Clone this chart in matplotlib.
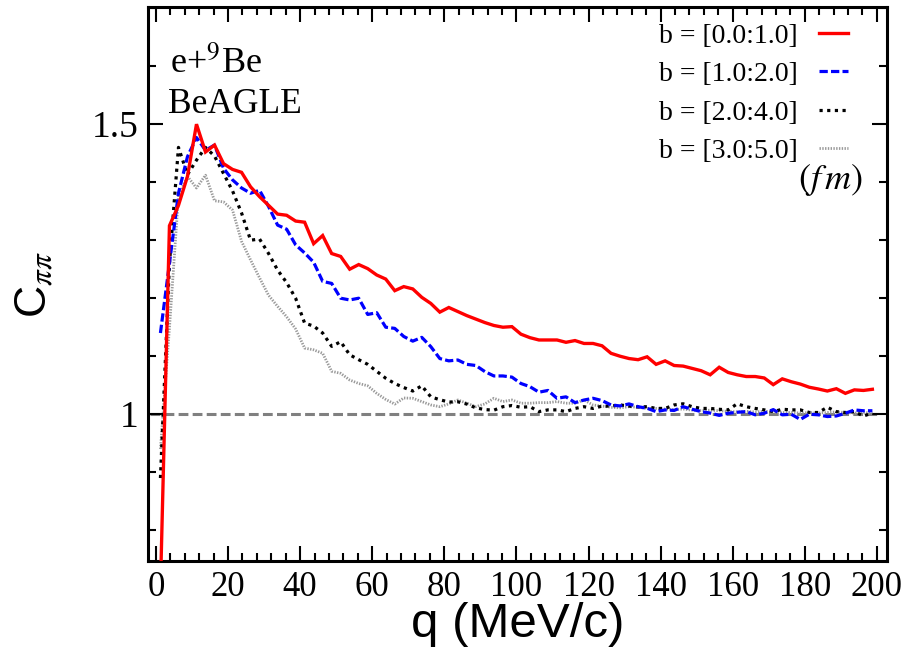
import numpy as np
import matplotlib
matplotlib.use("Agg")
import matplotlib.pyplot as plt
from matplotlib.ticker import MultipleLocator, FixedLocator, FuncFormatter

plt.rcParams['font.family'] = ['Liberation Serif', 'DejaVu Serif']
plt.rcParams['mathtext.fontset'] = 'stix'

# pair momentum bin centres (MeV/c)
q = np.arange(1.25, 200.0, 2.5)

c_b0_1 = [0.70, 1.325, 1.36, 1.41, 1.500, 1.452, 1.464, 1.432, 1.422, 1.417,
          1.392, 1.375, 1.360, 1.345, 1.343, 1.333, 1.331, 1.294, 1.308, 1.277,
          1.272, 1.250, 1.258, 1.251, 1.240, 1.233, 1.213, 1.220, 1.216, 1.2015,
          1.191, 1.176, 1.184, 1.177, 1.170, 1.164, 1.158, 1.153, 1.150, 1.151,
          1.138, 1.132, 1.128, 1.128, 1.128, 1.124, 1.127, 1.122, 1.122, 1.118,
          1.105, 1.100, 1.096, 1.094, 1.099, 1.086, 1.092, 1.084, 1.083, 1.079,
          1.075, 1.068, 1.081, 1.072, 1.068, 1.065, 1.065, 1.0625, 1.051, 1.061,
          1.056, 1.052, 1.0465, 1.0435, 1.040, 1.044, 1.036, 1.042, 1.041, 1.043]

c_b1_2 = [1.14, 1.26, 1.381, 1.444, 1.477, 1.455, 1.464, 1.424, 1.404, 1.390,
          1.381, 1.386, 1.358, 1.326, 1.319, 1.292, 1.278, 1.262, 1.229, 1.2255,
          1.200, 1.197, 1.200, 1.172, 1.175, 1.150, 1.148, 1.134, 1.126, 1.1325,
          1.1165, 1.096, 1.092, 1.0935, 1.086, 1.084, 1.0735, 1.066, 1.066, 1.064,
          1.053, 1.0475, 1.038, 1.041, 1.0275, 1.030, 1.020, 1.0245, 1.0275, 1.0235,
          1.016, 1.0143, 1.0178, 1.013, 1.0103, 1.0045, 1.0074, 1.0065, 1.013, 1.0086,
          1.0045, 1.002, 0.998, 1.0017, 1.0034, 1.0045, 0.999, 1.0017, 1.008, 0.999,
          1.000, 0.991, 1.000, 0.999, 0.996, 0.997, 1.0017, 1.0074, 1.006, 1.006]

c_b2_4 = [0.89, 1.26, 1.46, 1.413, 1.438, 1.46, 1.445, 1.415, 1.385, 1.347,
          1.30, 1.302, 1.277, 1.2485, 1.227, 1.200, 1.157, 1.152, 1.140, 1.117,
          1.125, 1.1025, 1.094, 1.086, 1.074, 1.062, 1.053, 1.046, 1.040, 1.049,
          1.030, 1.025, 1.021, 1.0215, 1.0175, 1.011, 1.008, 1.007, 1.013, 1.015,
          1.012, 1.013, 1.0045, 1.0075, 1.0075, 1.0045, 1.010, 1.013, 1.010, 1.014,
          1.014, 1.016, 1.014, 1.0125, 1.013, 1.010, 1.010, 1.016, 1.018, 1.013,
          1.010, 1.010, 1.0085, 1.0075, 1.018, 1.013, 1.010, 1.0075, 1.0045, 1.0086,
          1.0075, 1.0075, 1.003, 1.003, 1.012, 1.0045, 1.003, 1.0045, 0.997, 1.002]

c_b3_5 = [0.94, 1.149, 1.376, 1.41, 1.39, 1.412, 1.368, 1.366, 1.352, 1.298,
          1.266, 1.235, 1.205, 1.186, 1.168, 1.147, 1.114, 1.111, 1.105, 1.074,
          1.0705, 1.059, 1.053, 1.049, 1.036, 1.0255, 1.0175, 1.028, 1.0275, 1.0218,
          1.016, 1.013, 1.0178, 1.0246, 1.019, 1.013, 1.0178, 1.0275, 1.0218, 1.0246,
          1.019, 1.019, 1.020, 1.020, 1.0218, 1.019, 1.019, 1.0246, 1.016, 1.014,
          1.012, 1.011, 1.013, 1.012, 1.010, 1.010, 1.009, 1.008, 1.009, 1.007,
          1.006, 1.007, 1.006, 1.005, 1.004, 1.005, 1.004, 1.005, 1.004, 1.003,
          1.003, 1.002, 1.003, 1.002, 1.003, 1.004, 1.003, 1.002, 1.003, 1.002]

labels = ["b = [0.0:1.0]", "b = [1.0:2.0]", "b = [2.0:4.0]", "b = [3.0:5.0]"]

# unit reference line
ref_q = [-1.6, 200.0]
ref_c = [1.0, 1.0]

fig = plt.figure(figsize=(9.12, 6.49), dpi=100)
ax = fig.add_axes([148 / 912, 1 - 561 / 649, (887 - 148) / 912, (561 - 7) / 649])

ax.plot(ref_q, ref_c, color='#808080', lw=2.2, linestyle=(0, (3.2, 1.4)), zorder=1)

ax.plot(q, c_b0_1, color='#ff0000', lw=2.4, solid_joinstyle='miter', label=labels[0], zorder=5)
ax.plot(q, c_b1_2, color='#0000ff', lw=2.3, linestyle=(0, (2.6, 1.0)), label=labels[1], zorder=4)
ax.plot(q, c_b2_4, color='#000000', lw=2.3, linestyle=(0, (1.0, 1.4)), label=labels[2], zorder=3)
ax.plot(q, c_b3_5, color='#9a9a9a', lw=2.0, linestyle=(0, (0.5, 0.5)), label=labels[3], zorder=2)

ax.set_xlim(-2.2, 202.8)
ax.set_ylim(0.747, 1.702)

ax.xaxis.set_major_locator(MultipleLocator(20))
ax.xaxis.set_minor_locator(MultipleLocator(4))
ax.yaxis.set_major_locator(FixedLocator([1.0, 1.5]))
ax.yaxis.set_minor_locator(MultipleLocator(0.1))
ax.yaxis.set_major_formatter(FuncFormatter(lambda v, p: f"{v:g}"))

ax.tick_params(which='both', direction='in', top=True, right=True, width=1.5, colors='black')
ax.tick_params(which='major', length=11, pad=7)
ax.tick_params(which='minor', length=6)
ax.tick_params(axis='x', which='major', labelsize=25)
ax.tick_params(axis='y', which='major', labelsize=27)
for s in ax.spines.values():
    s.set_linewidth(2.2)

ax.set_xlabel("q (MeV/c)", fontsize=35.5, family=['Liberation Sans', 'DejaVu Sans'], labelpad=-1)
ax.set_ylabel(r"C$_{\pi\pi}$", fontsize=32, family=['Liberation Sans', 'DejaVu Sans'], labelpad=26)

leg = ax.legend(loc='upper right', bbox_to_anchor=(0.947, 0.971), frameon=False, markerfirst=False,
                fontsize=20, handlelength=1.05, handletextpad=0.75, labelspacing=0.47,
                borderaxespad=0.0, borderpad=0.0)

ax.text(0.967, 0.688, r"$(f\,m)$", transform=ax.transAxes, ha='right', va='center', fontsize=26)
ax.text(0.03, 0.881, r"e+$^{9}$Be", transform=ax.transAxes, ha='left', va='baseline', fontsize=26)
ax.text(0.027, 0.809, "BeAGLE", transform=ax.transAxes, ha='left', va='baseline', fontsize=25.5)

fig.savefig("out.png", dpi=100)
